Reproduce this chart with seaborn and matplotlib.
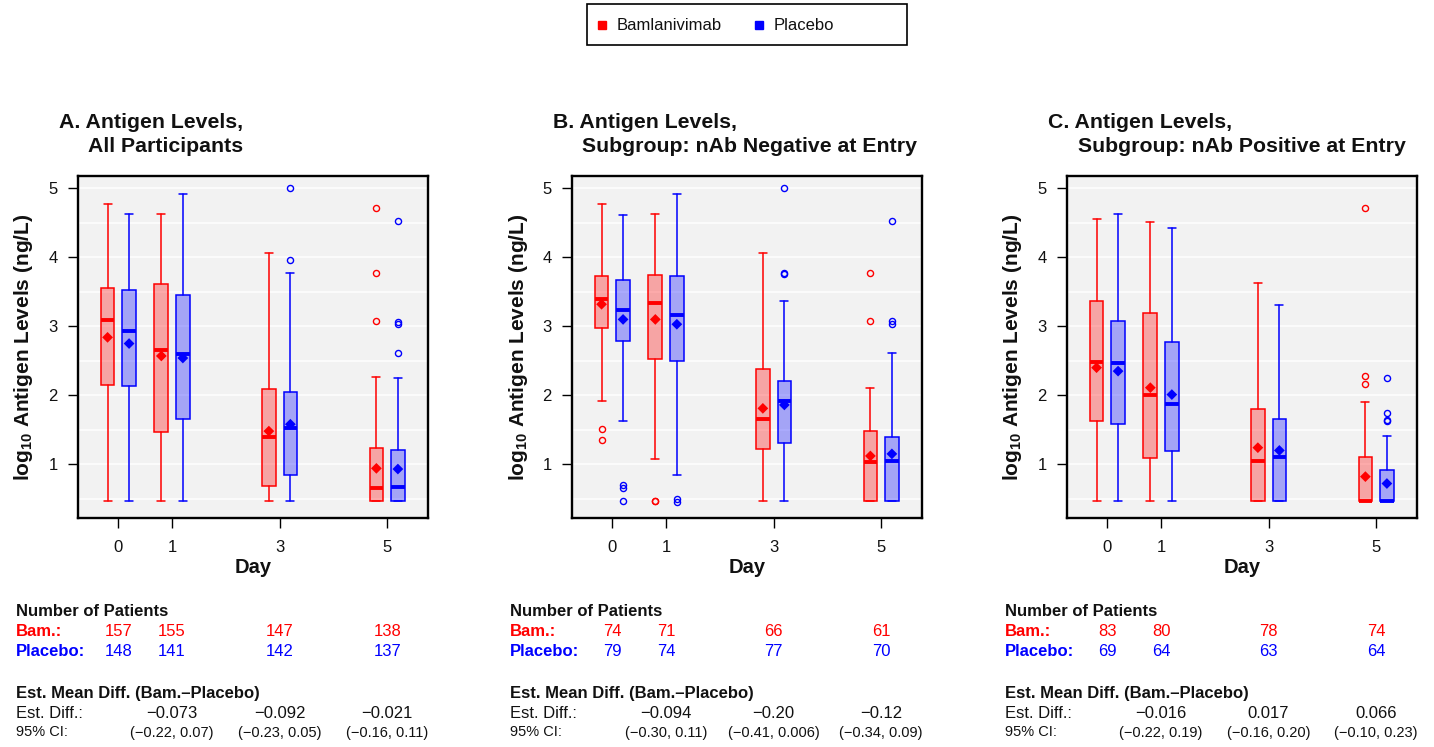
import numpy as np
import pandas as pd
import matplotlib
matplotlib.use("Agg")
import matplotlib.pyplot as plt
import matplotlib.transforms as mtrans
from matplotlib.lines import Line2D
from matplotlib.patches import Rectangle
import seaborn as sns

# ---------------- data ----------------
days = [0, 1, 3, 5]
day_labels = ["0", "1", "3", "5"]
arms = ["Bamlanivimab", "Placebo"]

titles_line1 = ["A. Antigen Levels,", "B. Antigen Levels,", "C. Antigen Levels,"]
titles_line2 = ["All Participants", "Subgroup: nAb Negative at Entry",
                "Subgroup: nAb Positive at Entry"]

# Panel A - All participants
a_bam_whislo = [0.46, 0.46, 0.46, 0.46]
a_bam_q1 = [2.15, 1.47, 0.68, 0.46]
a_bam_med = [3.09, 2.66, 1.40, 0.65]
a_bam_q3 = [3.55, 3.61, 2.09, 1.24]
a_bam_whishi = [4.78, 4.63, 4.07, 2.27]
a_bam_mean = [2.84, 2.57, 1.48, 0.94]
a_bam_fliers = [[], [], [], [4.71, 3.78, 3.07]]

a_pla_whislo = [0.46, 0.46, 0.46, 0.46]
a_pla_q1 = [2.14, 1.65, 0.85, 0.46]
a_pla_med = [2.93, 2.60, 1.52, 0.67]
a_pla_q3 = [3.52, 3.45, 2.05, 1.21]
a_pla_whishi = [4.63, 4.92, 3.78, 2.25]
a_pla_mean = [2.75, 2.54, 1.58, 0.93]
a_pla_fliers = [[], [], [5.00, 3.96], [4.53, 3.06, 3.03, 2.62]]

# Panel B - nAb negative at entry
b_bam_whislo = [1.92, 1.07, 0.46, 0.46]
b_bam_q1 = [2.98, 2.53, 1.22, 0.46]
b_bam_med = [3.39, 3.34, 1.65, 1.03]
b_bam_q3 = [3.73, 3.75, 2.38, 1.48]
b_bam_whishi = [4.78, 4.63, 4.07, 2.10]
b_bam_mean = [3.32, 3.10, 1.81, 1.12]
b_bam_fliers = [[1.51, 1.35], [0.46, 0.46], [], [3.78, 3.07]]

b_pla_whislo = [1.63, 0.84, 0.46, 0.46]
b_pla_q1 = [2.79, 2.50, 1.31, 0.46]
b_pla_med = [3.24, 3.16, 1.91, 1.05]
b_pla_q3 = [3.67, 3.73, 2.20, 1.40]
b_pla_whishi = [4.62, 4.92, 3.36, 2.62]
b_pla_mean = [3.10, 3.03, 1.86, 1.15]
b_pla_fliers = [[0.70, 0.66, 0.46], [0.50, 0.45], [5.00, 3.78, 3.76], [4.53, 3.07, 3.03]]

# Panel C - nAb positive at entry
c_bam_whislo = [0.46, 0.46, 0.46, 0.46]
c_bam_q1 = [1.63, 1.09, 0.46, 0.46]
c_bam_med = [2.48, 2.00, 1.04, 0.46]
c_bam_q3 = [3.36, 3.19, 1.80, 1.10]
c_bam_whishi = [4.55, 4.52, 3.63, 1.90]
c_bam_mean = [2.40, 2.11, 1.24, 0.82]
c_bam_fliers = [[], [], [], [4.71, 2.28, 2.17]]

c_pla_whislo = [0.46, 0.46, 0.46, 0.46]
c_pla_q1 = [1.58, 1.19, 0.46, 0.46]
c_pla_med = [2.47, 1.88, 1.11, 0.47]
c_pla_q3 = [3.07, 2.77, 1.65, 0.92]
c_pla_whishi = [4.63, 4.42, 3.31, 1.41]
c_pla_mean = [2.35, 2.01, 1.20, 0.72]
c_pla_fliers = [[], [], [], [2.25, 1.74, 1.64, 1.62]]

n_bam = [[157, 155, 147, 138], [74, 71, 66, 61], [83, 80, 78, 74]]
n_pla = [[148, 141, 142, 137], [79, 74, 77, 70], [69, 64, 63, 64]]
diff_days = [1, 3, 5]
est_diff = [["\u22120.073", "\u22120.092", "\u22120.021"],
            ["\u22120.094", "\u22120.20", "\u22120.12"],
            ["\u22120.016", "0.017", "0.066"]]
ci_text = [["(\u22120.22, 0.07)", "(\u22120.23, 0.05)", "(\u22120.16, 0.11)"],
           ["(\u22120.30, 0.11)", "(\u22120.41, 0.006)", "(\u22120.34, 0.09)"],
           ["(\u22120.22, 0.19)", "(\u22120.16, 0.20)", "(\u22120.10, 0.23)"]]

panels = [
    {"Bamlanivimab": (a_bam_whislo, a_bam_q1, a_bam_med, a_bam_q3, a_bam_whishi, a_bam_mean, a_bam_fliers),
     "Placebo": (a_pla_whislo, a_pla_q1, a_pla_med, a_pla_q3, a_pla_whishi, a_pla_mean, a_pla_fliers)},
    {"Bamlanivimab": (b_bam_whislo, b_bam_q1, b_bam_med, b_bam_q3, b_bam_whishi, b_bam_mean, b_bam_fliers),
     "Placebo": (b_pla_whislo, b_pla_q1, b_pla_med, b_pla_q3, b_pla_whishi, b_pla_mean, b_pla_fliers)},
    {"Bamlanivimab": (c_bam_whislo, c_bam_q1, c_bam_med, c_bam_q3, c_bam_whishi, c_bam_mean, c_bam_fliers),
     "Placebo": (c_pla_whislo, c_pla_q1, c_pla_med, c_pla_q3, c_pla_whishi, c_pla_mean, c_pla_fliers)},
]

# ---------------- style ----------------
sns.set_theme(style="ticks")
plt.rcParams["font.family"] = ["Liberation Sans", "DejaVu Sans"]
plt.rcParams["mathtext.fontset"] = "custom"
plt.rcParams["mathtext.rm"] = "Liberation Sans"
plt.rcParams["mathtext.bf"] = "Liberation Sans:bold"
plt.rcParams["mathtext.it"] = "Liberation Sans:italic"

RED = "#FF0000"
BLUE = "#0000FF"
TXT = "#111111"
colors = {"Bamlanivimab": RED, "Placebo": BLUE}
fills = {"Bamlanivimab": (1, 0, 0, 0.32), "Placebo": (0, 0, 1, 0.32)}
offsets = {"Bamlanivimab": -0.2, "Placebo": 0.2}

W, H = 1434, 747
fig = plt.figure(figsize=(W / 100, H / 100), dpi=100)

def fx(px):
    return px / W

def fy(py):
    return 1 - py / H

ax_lefts = [78, 572, 1067]
ax_w = 350

for i, left in enumerate(ax_lefts):
    ax = fig.add_axes([fx(left), fy(518), ax_w / W, 342 / H])
    ax.set_facecolor("#F2F2F2")
    mean_rows = []
    for arm in arms:
        wl, q1, med, q3, wh, mn, fl = panels[i][arm]
        stats = []
        pos = []
        for j, d in enumerate(days):
            stats.append(dict(whislo=wl[j], q1=q1[j], med=med[j], q3=q3[j],
                              whishi=wh[j], fliers=fl[j], mean=mn[j]))
            pos.append(d + offsets[arm])
            mean_rows.append({"pos": d + offsets[arm], "mean": mn[j], "arm": arm})
        col = colors[arm]
        ax.bxp(stats, positions=pos, widths=0.255, capwidths=0.15,
               patch_artist=True, showmeans=False, showfliers=True,
               manage_ticks=False,
               boxprops=dict(facecolor=fills[arm], edgecolor=col, linewidth=1.1),
               whiskerprops=dict(color=col, linewidth=1.1),
               capprops=dict(color=col, linewidth=1.1),
               medianprops=dict(color=col, linewidth=2.8, solid_capstyle="butt"),
               flierprops=dict(marker="o", markerfacecolor="none",
                               markeredgecolor=col, markersize=4.4,
                               markeredgewidth=1.0))
    df_means = pd.DataFrame(mean_rows)
    sns.scatterplot(data=df_means, x="pos", y="mean", hue="arm", palette=colors,
                    marker="D", s=30, linewidth=0, legend=False, ax=ax, zorder=6)
    ax.set_xlabel("")
    ax.set_ylabel("")
    ax.set_xlim(-0.75, 5.76)
    ax.set_ylim(0.22, 5.18)
    ax.set_xticks(days)
    ax.set_xticklabels(day_labels)
    ax.set_yticks([1, 2, 3, 4, 5])
    ax.set_yticks(np.arange(0.5, 5.01, 0.5), minor=True)
    ax.grid(True, which="both", axis="y", color="white", linewidth=1.1)
    ax.grid(False, axis="x")
    ax.set_axisbelow(True)
    ax.tick_params(axis="both", which="major", direction="out", length=7,
                   width=1.0, color="black", labelsize=12, labelcolor=TXT)
    ax.tick_params(axis="y", which="major", pad=7.5)
    ax.tick_params(axis="x", which="major", pad=9.2)
    ax.tick_params(which="minor", length=0)
    for sp in ax.spines.values():
        sp.set_visible(True)
        sp.set_color("black")
        sp.set_linewidth(1.7)

    # titles
    fig.text(fx(left - 19), fy(128), titles_line1[i], fontsize=15.3,
             fontweight="bold", ha="left", va="baseline", color=TXT)
    fig.text(fx(left + 10.5), fy(152), titles_line2[i], fontsize=15.3,
             fontweight="bold", ha="left", va="baseline", color=TXT)
    # y label
    fig.text(fx(left - 54), 0.5 * (fy(176) + fy(518)),
             r"$\mathbf{log}_{\mathregular{10}}$ Antigen Levels (ng/L)",
             fontsize=15, fontweight="bold", rotation=90, ha="center",
             va="center", color=TXT)
    # x label
    tr_ax_fig = mtrans.blended_transform_factory(ax.transAxes, fig.transFigure)
    fig.text(0.5, fy(573), "Day", transform=tr_ax_fig, fontsize=14.5,
             fontweight="bold", ha="center", va="baseline", color=TXT)

    # table below
    tr = mtrans.blended_transform_factory(ax.transData, fig.transFigure)
    lx = fx(left - 62)
    fig.text(lx, fy(616), "Number of Patients", fontsize=12, fontweight="bold",
             ha="left", va="baseline", color=TXT)
    fig.text(lx, fy(636), "Bam.:", fontsize=12, fontweight="bold", color=RED,
             ha="left", va="baseline")
    fig.text(lx, fy(656), "Placebo:", fontsize=12, fontweight="bold", color=BLUE,
             ha="left", va="baseline")
    for j, d in enumerate(days):
        fig.text(d, fy(636), str(n_bam[i][j]), transform=tr, fontsize=12,
                 color=RED, ha="center", va="baseline")
        fig.text(d, fy(656), str(n_pla[i][j]), transform=tr, fontsize=12,
                 color=BLUE, ha="center", va="baseline")
    fig.text(lx, fy(698), "Est. Mean Diff. (Bam.\u2013Placebo)", fontsize=12,
             fontweight="bold", ha="left", va="baseline", color=TXT)
    fig.text(lx, fy(717.5), "Est. Diff.:", fontsize=12, ha="left", va="baseline",
             color=TXT)
    fig.text(lx, fy(736.5), "95% CI:", fontsize=10.5, ha="left", va="baseline",
             color=TXT)
    for j, d in enumerate(diff_days):
        fig.text(d, fy(717.5), est_diff[i][j], transform=tr, fontsize=12,
                 ha="center", va="baseline", color=TXT)
        fig.text(d, fy(736.5), ci_text[i][j], transform=tr, fontsize=10.5,
                 ha="center", va="baseline", color=TXT)

# legend (drawn as a boxed key at top)
fig.add_artist(Rectangle((fx(587), fy(45)), 320 / W, 41 / H,
                         transform=fig.transFigure, facecolor="white",
                         edgecolor="black", linewidth=1.2))
for mx, tx, arm in [(602, 617, "Bamlanivimab"), (759, 774, "Placebo")]:
    fig.add_artist(Line2D([fx(mx)], [fy(25)], marker="s", markersize=5.2,
                          color=colors[arm], linestyle="none",
                          transform=fig.transFigure))
    fig.text(fx(tx), fy(30.5), arm, fontsize=12, ha="left", va="baseline",
             color=TXT)

fig.savefig("out.png", dpi=100)
